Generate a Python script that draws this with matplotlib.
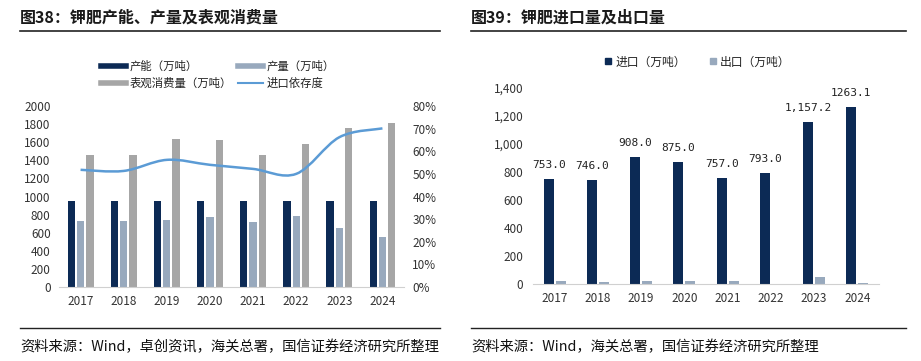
import numpy as np
import matplotlib
matplotlib.use('Agg')
import matplotlib.pyplot as plt
from matplotlib.path import Path
from matplotlib.patches import PathPatch
from matplotlib.lines import Line2D
from matplotlib.ticker import FuncFormatter

plt.rcParams['font.family'] = ['Noto Sans CJK SC', 'DejaVu Sans']

years = ['2017', '2018', '2019', '2020', '2021', '2022', '2023', '2024']
# left chart
capacity = [950, 950, 950, 950, 950, 950, 950, 950]
production = [732, 732, 743, 772, 720, 787, 651, 551]
consumption = [1463, 1463, 1632, 1625, 1456, 1581, 1757, 1809]
import_dep = [51.8, 51.3, 56.2, 54.0, 52.2, 50.0, 66.2, 70.1]
# right chart
imports = [753.0, 746.0, 908.0, 875.0, 757.0, 793.0, 1157.2, 1263.1]
import_labels = ['753.0', '746.0', '908.0', '875.0', '757.0', '793.0', '1,157.2', '1263.1']
exports = [21, 17, 21, 21, 21, 0, 48, 7]

NAVY = '#0c2a55'
STEEL = '#98a9bd'
GREY = '#a6a6a6'
BLUE = '#5b9bd5'
TICK = '#333333'

W, H = 921, 361
fig = plt.figure(figsize=(W / 100, H / 100), dpi=100)


def box(x0, y0, x1, y1):
    return [x0 / W, 1 - y1 / H, (x1 - x0) / W, (y1 - y0) / H]


def smooth_path(xs, ys, t=1 / 6):
    # Catmull-Rom style bezier control points (Excel "smooth line")
    xs, ys = np.asarray(xs, float), np.asarray(ys, float)
    n = len(xs)
    verts = [(xs[0], ys[0])]
    codes = [Path.MOVETO]
    for i in range(n - 1):
        p0 = i - 1 if i > 0 else i
        p3 = i + 2 if i + 2 < n else i + 1
        c1 = (xs[i] + (xs[i + 1] - xs[p0]) * t, ys[i] + (ys[i + 1] - ys[p0]) * t)
        c2 = (xs[i + 1] - (xs[p3] - xs[i]) * t, ys[i + 1] - (ys[p3] - ys[i]) * t)
        verts += [c1, c2, (xs[i + 1], ys[i + 1])]
        codes += [Path.CURVE4] * 3
    return Path(verts, codes)


# ---- titles, rules, sources
fig.text(20 / W, 1 - 18 / H, '图38：钾肥产能、产量及表观消费量', fontsize=11.5, fontweight='bold',
         va='center', ha='left', color='#1a1a1a')
fig.text(471 / W, 1 - 18 / H, '图39：钾肥进口量及出口量', fontsize=11.5, fontweight='bold',
         va='center', ha='left', color='#1a1a1a')
for x0, x1 in [(20, 440), (471, 906)]:
    fig.add_artist(Line2D([x0 / W, x1 / W], [1 - 31 / H] * 2, color='#222222', lw=1.2))
    fig.add_artist(Line2D([x0 / W, x1 / W], [1 - 328 / H] * 2, color='#222222', lw=1.0))
fig.text(20 / W, 1 - 347 / H, '资料来源：Wind，卓创资讯，海关总署，国信证券经济研究所整理', fontsize=10.3,
         va='center', ha='left', color='#111111')
fig.text(471 / W, 1 - 347 / H, '资料来源：Wind，海关总署，国信证券经济研究所整理', fontsize=10.3,
         va='center', ha='left', color='#111111')

# ---- left chart
x = np.arange(len(years))
ax = fig.add_axes(box(59, 106, 404, 287))
bw = 0.17
off = 0.215
ax.bar(x - off, capacity, bw, color=NAVY)
ax.bar(x, production, bw, color=STEEL)
ax.bar(x + off, consumption, bw, color=GREY)
ax.set_xlim(-0.5, len(years) - 0.5)
ax.set_ylim(0, 2000)
ax.set_yticks(np.arange(0, 2001, 200))
ax.set_xticks(x)
ax.set_xticklabels(years)
for s in ['top', 'right', 'left']:
    ax.spines[s].set_visible(False)
ax.spines['bottom'].set_color('#d0d0d0')
ax.tick_params(axis='both', length=0, labelsize=8.5, colors=TICK)
ax.tick_params(axis='y', pad=6)
ax.tick_params(axis='x', pad=6)

ax2 = ax.twinx()
ax2.set_ylim(0, 80)
ax2.set_yticks(np.arange(0, 81, 10))
ax2.yaxis.set_major_formatter(FuncFormatter(lambda v, p: f'{v:.0f}%'))
ax2.add_patch(PathPatch(smooth_path(x, import_dep), fill=False, edgecolor=BLUE, lw=1.8))
for s in ax2.spines.values():
    s.set_visible(False)
ax2.tick_params(axis='y', length=0, labelsize=8.5, colors=TICK, pad=6)

# column-major fill: order so rows read 产能/产量, 表观消费量/进口依存度
handles = [Line2D([], [], color=NAVY, lw=4), Line2D([], [], color=GREY, lw=4),
           Line2D([], [], color=STEEL, lw=4), Line2D([], [], color=BLUE, lw=1.5)]
labels = ['产能（万吨）', '表观消费量（万吨）', '产量（万吨）', '进口依存度']
fig.legend(handles, labels, ncol=2, loc='center left', bbox_to_anchor=(91 / W, 1 - 75 / H),
           frameon=False, fontsize=8.2, handlelength=2.2, handletextpad=0.3,
           columnspacing=0.5, labelspacing=0.5, labelcolor='#222222')

# ---- right chart
bx = fig.add_axes(box(533, 88, 879, 284))
bw2 = 0.23
off2 = 0.138
bx.bar(x - off2, imports, bw2, color=NAVY)
bx.bar(x + off2, exports, bw2, color=STEEL)
for xi, v, lab in zip(x, imports, import_labels):
    bx.annotate(lab, (xi - off2, v), xytext=(0, 10), textcoords='offset points',
                ha='center', va='center', fontsize=8, family='DejaVu Sans Mono', color='#222222')
bx.set_xlim(-0.5, len(years) - 0.5)
bx.set_ylim(0, 1400)
bx.set_yticks(np.arange(0, 1401, 200))
bx.yaxis.set_major_formatter(FuncFormatter(lambda v, p: f'{v:,.0f}'))
bx.set_xticks(x)
bx.set_xticklabels(years)
for s in ['top', 'right', 'left']:
    bx.spines[s].set_visible(False)
bx.spines['bottom'].set_color('#d0d0d0')
bx.tick_params(axis='both', length=0, labelsize=8.5, colors=TICK)
bx.tick_params(axis='y', pad=7)
bx.tick_params(axis='x', pad=6)

h2 = [Line2D([], [], color=NAVY, marker='s', ls='', ms=4),
      Line2D([], [], color=STEEL, marker='s', ls='', ms=4)]
fig.legend(h2, ['进口（万吨）', '出口（万吨）'], ncol=2, loc='center left',
           bbox_to_anchor=(594 / W, 1 - 62 / H), frameon=False, fontsize=8.5,
           handlelength=0.6, handletextpad=0.3, columnspacing=2.0, labelcolor='#222222')

fig.savefig('out.png', dpi=100)
